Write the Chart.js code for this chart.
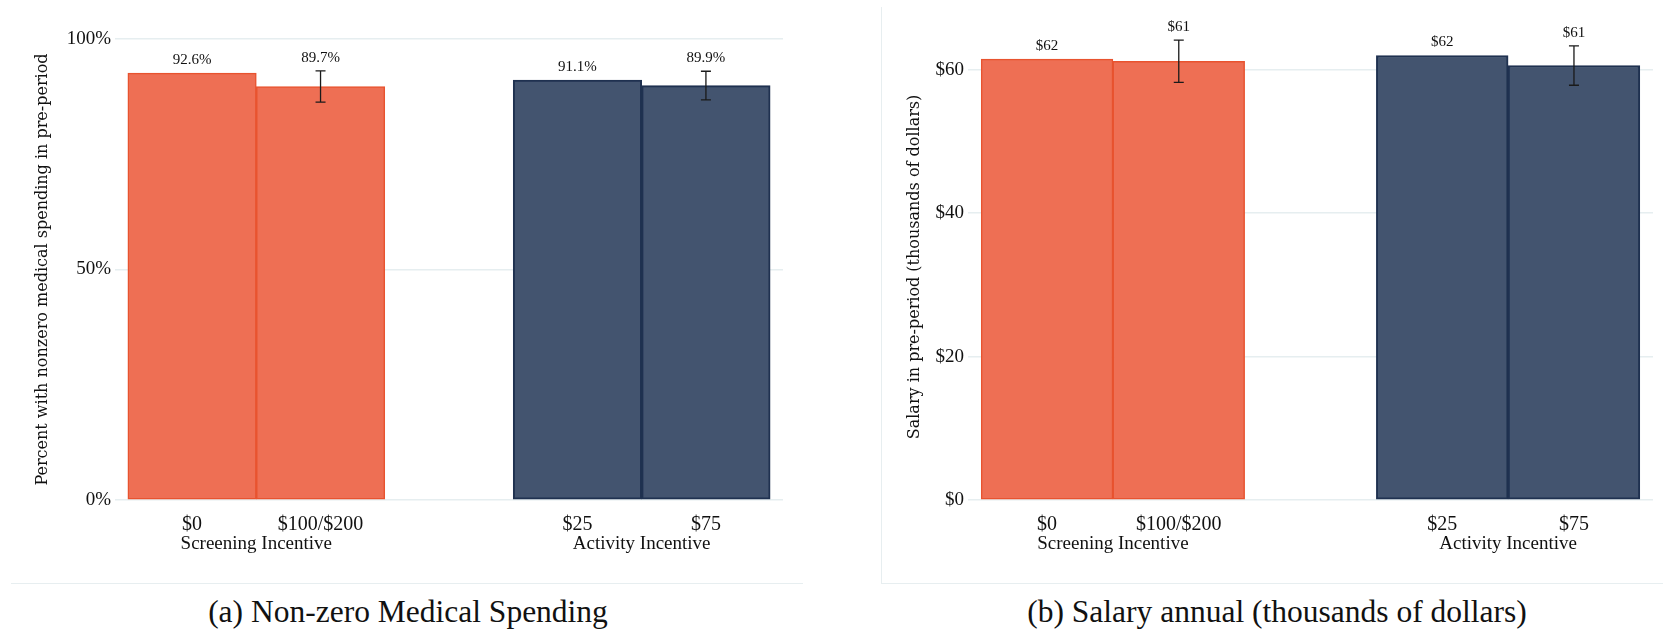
<!DOCTYPE html>
<html>
<head>
<meta charset="utf-8">
<title>Pre-period balance by incentive arm</title>
<script src="https://cdn.jsdelivr.net/npm/chart.js@4.4.0/dist/chart.umd.min.js"></script>
<style>
  html, body { margin: 0; padding: 0; background: #ffffff; }
  body { position: relative; width: 1663px; height: 632px; overflow: hidden; font-family: "Liberation Serif", serif; }
  canvas { position: absolute; top: 0; }
  #spendingChart { left: 0; }
  #salaryChart { left: 830px; }
  .rule { position: absolute; background: #e7eef0; }
  .caption { position: absolute; top: 593px; font-size: 31.5px; line-height: 38px; color: #111; white-space: nowrap; transform: translateX(-50%); }
</style>
</head>
<body>
<canvas id="spendingChart" width="783" height="575"></canvas>
<canvas id="salaryChart" width="823" height="575"></canvas>

<div class="rule" style="left:11px; top:583px; width:792px; height:1px;"></div>
<div class="rule" style="left:881px; top:7px; width:1px; height:577px;"></div>
<div class="rule" style="left:881px; top:583px; width:782px; height:1px;"></div>

<div class="caption" style="left:408px;">(a) Non-zero Medical Spending</div>
<div class="caption" style="left:1277px;">(b) Salary annual (thousands of dollars)</div>

<script>
/************************************************************************************************
 *                                        CHART DATA
 * **********************************************************************************************/

// the empty category is the gap between the two incentive groups
const categories = ["$0", "$100/$200", "", "$25", "$75"];
const categoryGroup = [0, 0, null, 1, 1];
const groups = ["Screening Incentive", "Activity Incentive"];

const spendingValues = [92.6, 89.7, null, 91.1, 89.9];
const spendingErrors = [null, 3.4, null, null, 3.1];

const salaryValues = [61.5, 61.2, null, 62.0, 60.6];
const salaryErrors = [null, 2.95, null, null, 2.75];

const spendingTicks = [0, 50, 100];
const salaryTicks = [0, 20, 40, 60];

/************************************************************************************************
 *                                        CHART SETTINGS
 * **********************************************************************************************/

const groupFill = ["#ee6f54", "#43546f"];
const groupBorder = ["#e8532f", "#1f3150"];
const serif = "'Liberation Serif', 'Times New Roman', serif";

const spendingSettings = {
  element: "spendingChart",
  values: spendingValues,
  errors: spendingErrors,
  ticks: spendingTicks,
  yMax: 100,
  yTitle: "Percent with nonzero medical spending in pre-period",
  yTickLabel: (v) => v + "%",
  barLabel: (v) => v.toFixed(1) + "%",
  axisWidth: 115,
  titlePad: 33,
  topPad: 39,
};

const salarySettings = {
  element: "salaryChart",
  values: salaryValues,
  errors: salaryErrors,
  ticks: salaryTicks,
  yMax: 65,
  yTitle: "Salary in pre-period (thousands of dollars)",
  yTickLabel: (v) => "$" + v,
  barLabel: (v) => "$" + Math.round(v),
  axisWidth: 138,
  titlePad: 75,
  topPad: 34,
};

/************************************************************************************************
 *                                  ERROR BARS, LABELS, GROUPS
 * **********************************************************************************************/

const barDecorations = {
  id: "barDecorations",
  afterDatasetsDraw(chart, args, opts) {
    const ctx = chart.ctx;
    const xScale = chart.scales.x;
    const yScale = chart.scales.y;
    const points = chart.data.datasets[0].data;
    const bars = chart.getDatasetMeta(0).data;

    ctx.save();
    bars.forEach((bar, i) => {
      const p = points[i];
      let top = bar.y;
      if (p.err) {
        const hi = yScale.getPixelForValue(p.y + p.err);
        const lo = yScale.getPixelForValue(p.y - p.err);
        ctx.strokeStyle = "#1a1a1a";
        ctx.lineWidth = 1.3;
        ctx.beginPath();
        ctx.moveTo(bar.x, hi);
        ctx.lineTo(bar.x, lo);
        ctx.moveTo(bar.x - 5, hi);
        ctx.lineTo(bar.x + 5, hi);
        ctx.moveTo(bar.x - 5, lo);
        ctx.lineTo(bar.x + 5, lo);
        ctx.stroke();
        top = Math.min(top, hi);
      }
      ctx.fillStyle = "#111";
      ctx.font = "15px " + serif;
      ctx.textAlign = "center";
      ctx.textBaseline = "middle";
      ctx.fillText(opts.format(p.y), bar.x, top - 13);
    });

    // group names sit under the pair of tick labels
    ctx.font = "19px " + serif;
    ctx.fillStyle = "#111";
    groups.forEach((name, g) => {
      const idx = categoryGroup.map((c, i) => (c === g ? i : -1)).filter((i) => i >= 0);
      const mid = (idx[0] + idx[idx.length - 1]) / 2;
      ctx.fillText(name, xScale.getPixelForValue(mid), xScale.top + 44);
    });
    ctx.restore();
  },
};

/************************************************************************************************
 *                                        CHART CONFIG
 * **********************************************************************************************/

function getPoints(values, errors) {
  return categories
    .map((c, i) => ({ x: i, y: values[i], err: errors[i], group: categoryGroup[i] }))
    .filter((p) => p.y !== null);
}

function getConfig(settings) {
  const points = getPoints(settings.values, settings.errors);
  return {
    type: "bar",
    data: {
      datasets: [
        {
          data: points,
          backgroundColor: points.map((p) => groupFill[p.group]),
          borderColor: points.map((p) => groupBorder[p.group]),
          borderWidth: points.map((p) => (p.group === 0 ? 1.5 : 2)),
          borderSkipped: false,
          barPercentage: 1,
          categoryPercentage: 1,
        },
      ],
    },
    options: {
      responsive: false,
      animation: false,
      layout: { padding: { top: settings.topPad, left: 0, right: 0, bottom: 0 } },
      plugins: {
        legend: { display: false },
        tooltip: { enabled: false },
        barDecorations: { format: settings.barLabel },
      },
      scales: {
        x: {
          type: "linear",
          offset: false,
          min: -0.6,
          max: categories.length - 0.4,
          grid: { display: false, drawTicks: false, offset: false },
          border: { display: false },
          afterBuildTicks: (axis) => {
            axis.ticks = categories.map((c, i) => ({ value: i }));
          },
          afterFit: (axis) => {
            axis.height = 75;
          },
          ticks: {
            autoSkip: false,
            maxRotation: 0,
            padding: 15,
            color: "#111",
            font: { family: serif, size: 20, lineHeight: 1 },
            callback: (v) => categories[v] || "",
          },
        },
        y: {
          min: 0,
          max: settings.yMax,
          grid: { color: "#e6eef0", lineWidth: 1.5, drawTicks: false },
          border: { display: false },
          afterBuildTicks: (axis) => {
            axis.ticks = settings.ticks.map((v) => ({ value: v }));
          },
          afterFit: (axis) => {
            axis.width = settings.axisWidth;
          },
          ticks: {
            padding: 4,
            color: "#111",
            font: { family: serif, size: 19 },
            callback: settings.yTickLabel,
          },
          title: {
            display: true,
            text: settings.yTitle,
            color: "#111",
            padding: { top: settings.titlePad, bottom: 0 },
            font: { family: "'DejaVu Serif', serif", size: 16, lineHeight: 1.2 },
          },
        },
      },
    },
    plugins: [barDecorations],
  };
}

/************************************************************************************************
 *                                        RENDER
 * **********************************************************************************************/

[spendingSettings, salarySettings].forEach((settings) => {
  new Chart(document.getElementById(settings.element), getConfig(settings));
});
</script>
</body>
</html>
